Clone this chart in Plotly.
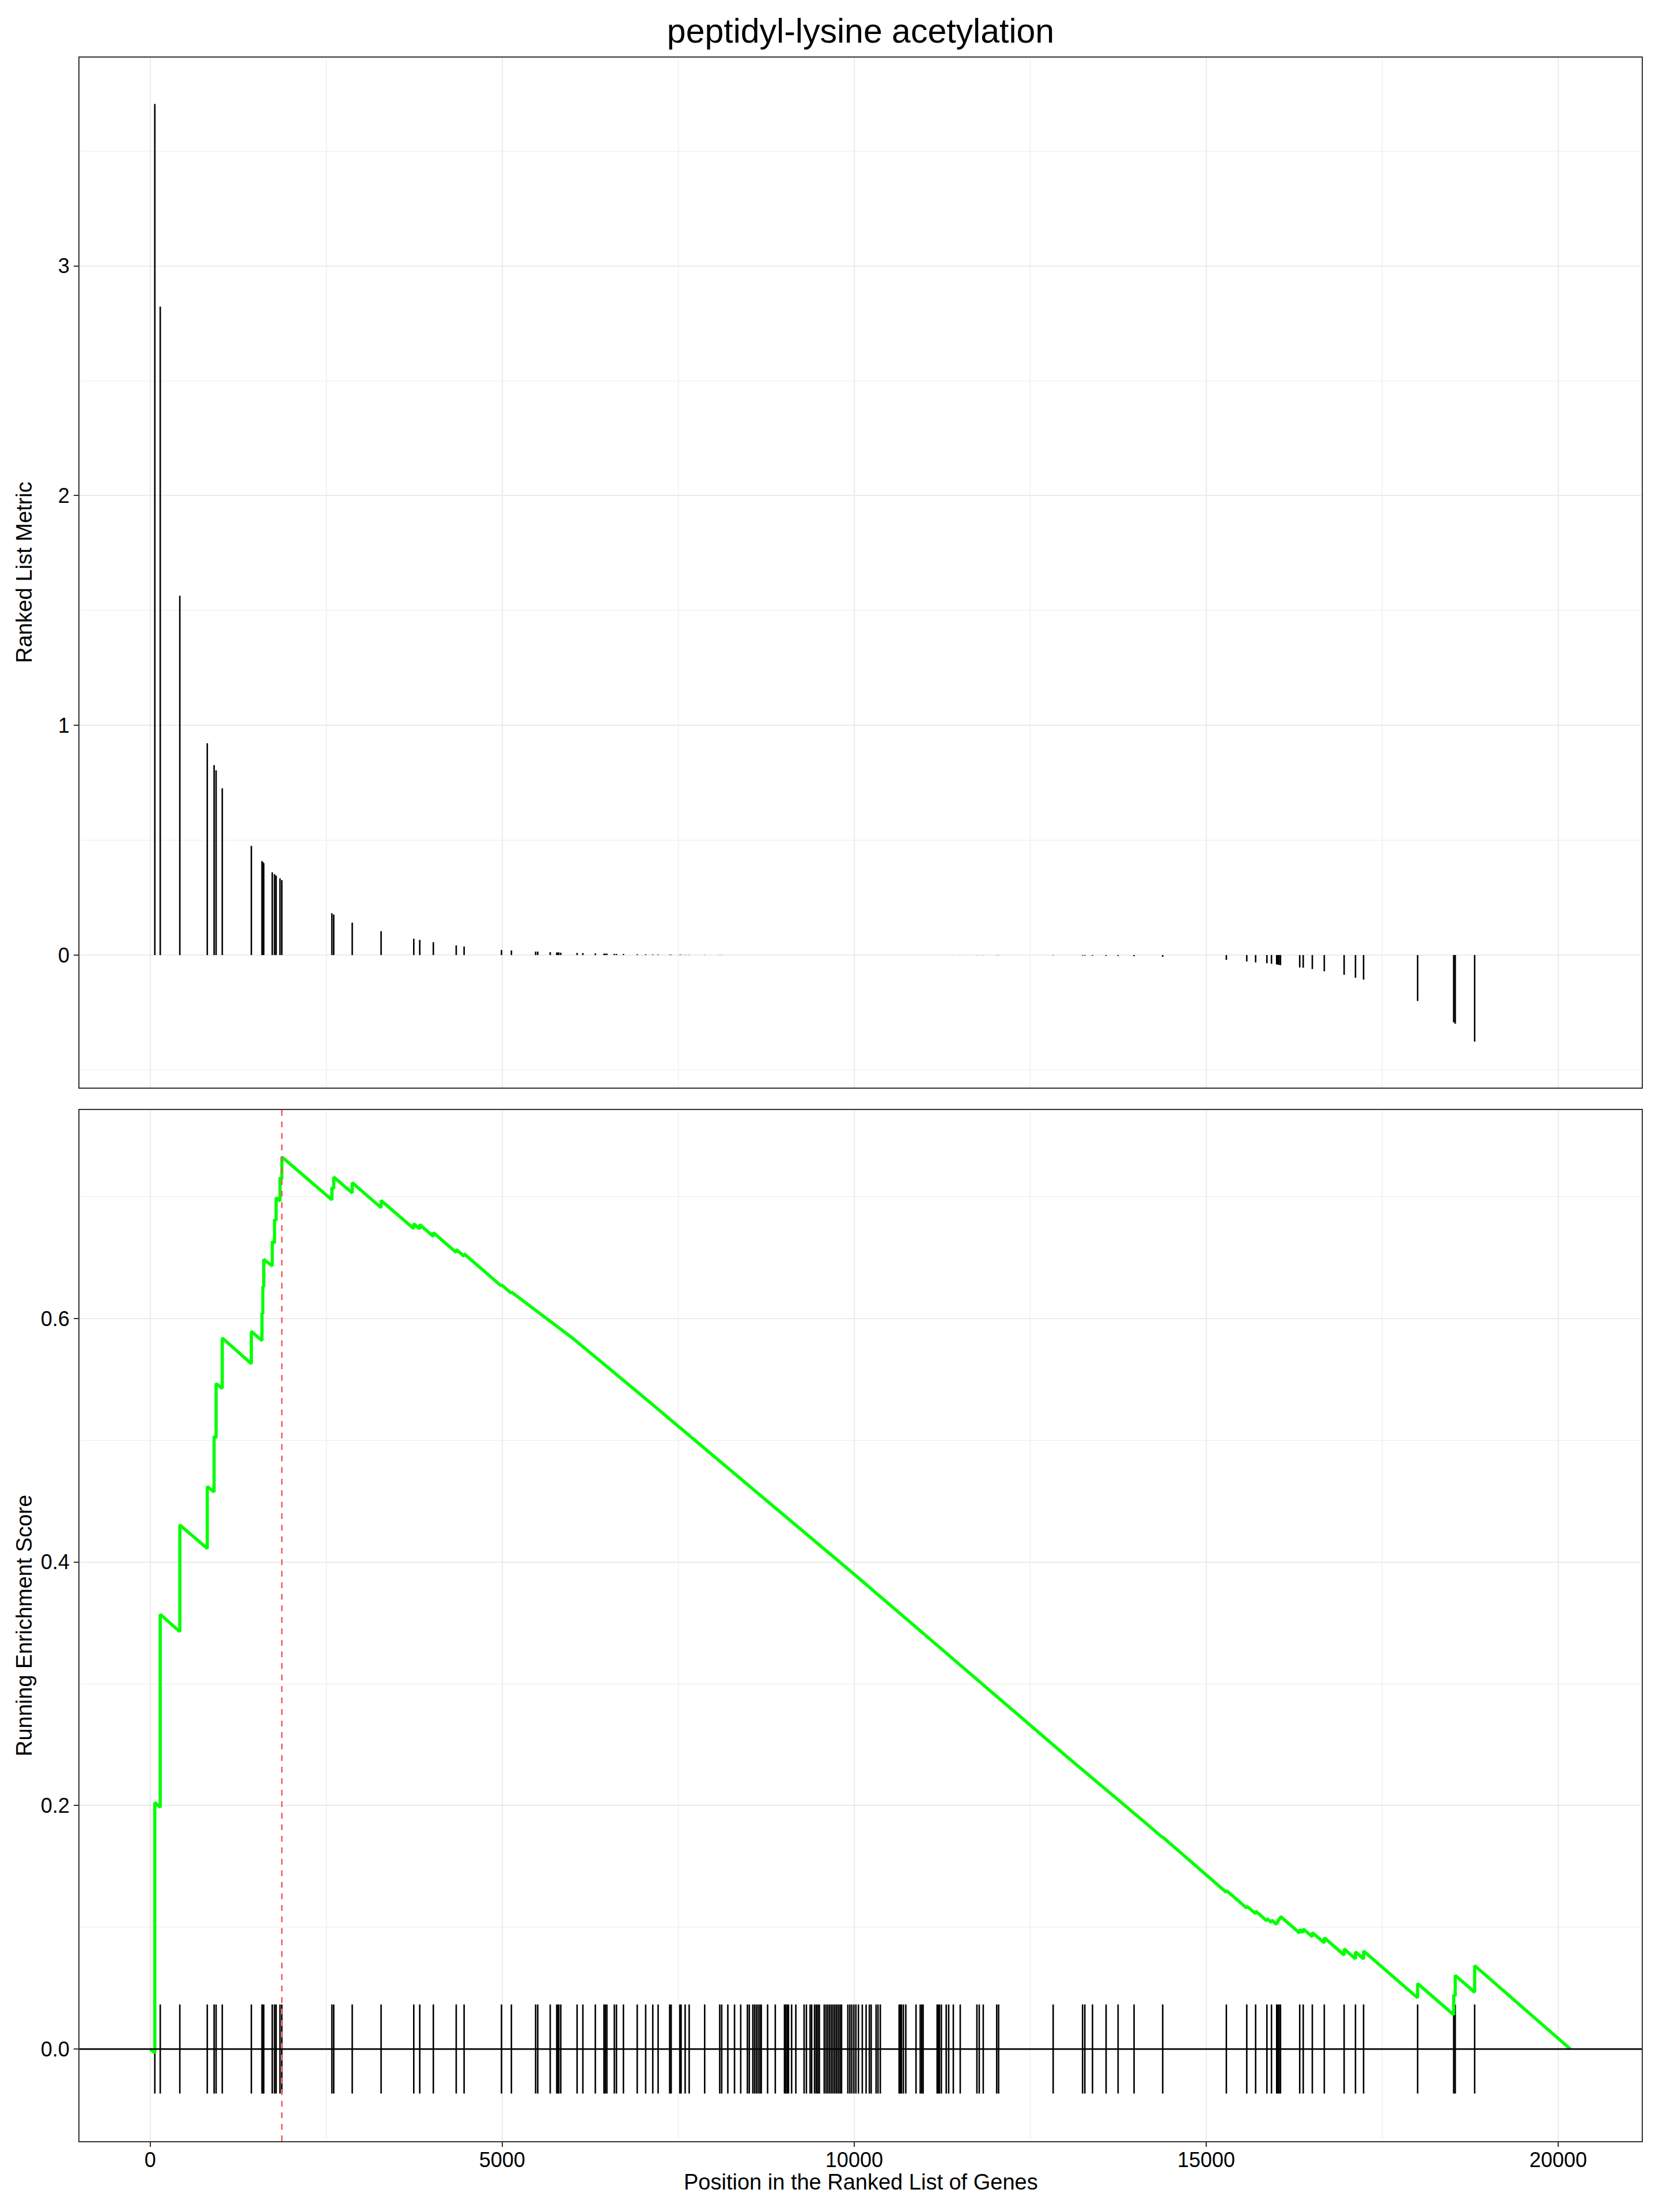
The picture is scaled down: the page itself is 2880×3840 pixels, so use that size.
import plotly.graph_objects as go

# ---------------- data ----------------
N_GENES = 20172
TITLE = "peptidyl-lysine acetylation"

# positions of the gene-set members in the ranked list
hit_pos = [
    66, 143, 421, 811, 908, 936, 1024, 1437, 1588, 1600, 1613, 1734, 1766, 1789, 1844, 1870,
    2581, 2607, 2870, 3280, 3744, 3829, 4022, 4347, 4459, 4990, 5131,
    5475, 5505, 5682, 5775, 5791, 5804, 5832, 6064, 6146, 6323, 6446, 6465, 6487, 6593, 6623,
    6722, 6918, 7038, 7139, 7215, 7379, 7400, 7523, 7541, 7599, 7656, 7876, 8090, 8118,
    8205, 8300, 8388, 8483, 8510, 8560, 8585, 8610, 8635, 8660, 8680, 8770, 8879, 9010, 9030,
    9050, 9067, 9111, 9171, 9288, 9321, 9374, 9396, 9437, 9460, 9482, 9505, 9574, 9600, 9625,
    9650, 9675, 9700, 9725, 9750, 9775, 9800, 9820, 9910, 9938, 9966, 9995, 10024, 10060,
    10115, 10169, 10215, 10241, 10311, 10338, 10371,
    10638, 10655, 10671, 10698, 10733, 10878, 10938, 10960, 10979, 11178, 11195, 11211, 11238,
    11307, 11342, 11408, 11506, 11743, 11776, 11833, 12024, 12051,
    12826, 13244, 13276, 13385, 13578, 13748, 13975, 14382, 15286, 15576, 15702, 15862, 15927,
    16001, 16018, 16035, 16055, 16328, 16378, 16507, 16677, 16959, 17120, 17235, 18003, 18515,
    18537, 18813,
]

# ranked list metric of each member
hit_metric = [
    3.705, 2.823, 1.564, 0.922, 0.827, 0.804, 0.726, 0.475, 0.409, 0.405, 0.400, 0.360, 0.352, 0.346, 0.334, 0.326,
    0.182, 0.176, 0.141, 0.104, 0.071, 0.066, 0.056, 0.042, 0.037, 0.022, 0.020,
    0.015, 0.015, 0.0125, 0.011, 0.011, 0.011, 0.010, 0.009, 0.0085, 0.007, 0.006, 0.006, 0.006, 0.005, 0.005,
    0.0045, 0.0035, 0.003, 0.0025, 0.0022, 0.0015, 0.0015, 0.0012, 0.0012, 0.001, 0.001, 0.0008, 0.0006, 0.0006,
    0.00005, 0.00005, 0.00005, 0.00005, 0.00005, 0.00005, 0.00005, 0.00005, 0.00005, 0.00005, 0.00005, 0.00004, 0.00004, 0.00004, 0.00004,
    0.00004, 0.00004, 0.00004, 0.00003, 0.00003, 0.00003, 0.00003, 0.00003, 0.00003, 0.00003, 0.00003, 0.00003, 0.00002, 0.00002, 0.00002,
    0.00002, 0.00002, 0.00002, 0.00002, 0.00002, 0.00002, 0.00002, 0.00002, 0.00001, 0.00001, 0.00001, 0.00001, 0.00001, 0.00001,
    0.00001, 0.00001, 0.00001, 0.00001, 0.00001, 0.00001, 0.00001,
    -0.0001, -0.0001, -0.0001, -0.0001, -0.0001, -0.0002, -0.0002, -0.0002, -0.0002, -0.0003, -0.0003, -0.0003, -0.0003,
    -0.0003, -0.0003, -0.0004, -0.0004, -0.0005, -0.0005, -0.0005, -0.0007, -0.0007,
    -0.0015, -0.0025, -0.0025, -0.003, -0.0035, -0.004, -0.005, -0.0075, -0.021, -0.028, -0.032, -0.036, -0.038,
    -0.041, -0.042, -0.043, -0.044, -0.054, -0.055, -0.061, -0.071, -0.086, -0.099, -0.107, -0.200, -0.293,
    -0.299, -0.377,
]

# running enrichment score, vertices
es_x = [
    1, 66, 66, 143, 143, 421, 421, 811, 811, 908, 908, 936, 936, 1024, 1024, 1437, 1437,
    1588, 1588, 1600, 1600, 1613, 1613, 1734, 1734, 1766, 1766, 1789, 1789, 1844, 1844, 1870, 1870,
    2581, 2581, 2607, 2607, 2870, 2870, 3280, 3280, 3744, 3744, 3829, 3829, 4022, 4022,
    4347, 4347, 4459, 4459, 4990, 4990, 5131, 5131,
    6000, 7000, 8000, 9000, 10000, 11000, 12000, 13000, 14000, 14382, 14382,
    15286, 15286, 15576, 15576, 15702, 15702, 15862, 15862, 15927, 15927,
    16001, 16001, 16018, 16018, 16035, 16035, 16055, 16055,
    16328, 16328, 16378, 16378, 16507, 16507, 16677, 16677, 16959, 16959, 17120, 17120,
    17235, 17235, 18003, 18003, 18515, 18515, 18537, 18537, 18813, 18813, 20172,
]
es_y = [
    0.0, -0.0033, 0.2025, 0.1986, 0.3571, 0.3429, 0.4305, 0.4112, 0.4621, 0.4576, 0.5035, 0.5020, 0.5467, 0.5427, 0.5841, 0.5630, 0.5895,
    0.5820, 0.6046, 0.6040, 0.6266, 0.6260, 0.6487, 0.6433, 0.6635, 0.6620, 0.6816, 0.6805, 0.6994, 0.6966, 0.7160, 0.7147, 0.7329,
    0.6976, 0.7079, 0.7066, 0.7163, 0.7033, 0.7117, 0.6912, 0.6970, 0.6740, 0.6780, 0.6737, 0.6773, 0.6676, 0.6707,
    0.6544, 0.6568, 0.6512, 0.6533, 0.6267, 0.6279, 0.6208, 0.6219,
    0.5840, 0.5360, 0.4875, 0.4386, 0.3900, 0.3405, 0.2908, 0.2412, 0.1925, 0.1737, 0.1741,
    0.1287, 0.1303, 0.1157, 0.1174, 0.1111, 0.1133, 0.1052, 0.1072, 0.1039, 0.1060,
    0.1023, 0.1046, 0.1038, 0.1061, 0.1053, 0.1076, 0.1066, 0.1089,
    0.0952, 0.0982, 0.0957, 0.0987, 0.0922, 0.0956, 0.0872, 0.0914, 0.0772, 0.0822, 0.0741, 0.0798,
    0.0740, 0.0805, 0.0420, 0.0538, 0.0281, 0.0446, 0.0435, 0.0605, 0.0466, 0.0685, 0.0,
]

ES_PEAK_POS = 1870

x_ticks = [0, 5000, 10000, 15000, 20000]
x_tick_labels = ["0", "5000", "10000", "15000", "20000"]
metric_ticks = [0, 1, 2, 3]
metric_tick_labels = ["0", "1", "2", "3"]
es_ticks = [0.0, 0.2, 0.4, 0.6]
es_tick_labels = ["0.0", "0.2", "0.4", "0.6"]

# ---------------- style ----------------
FONT = "Liberation Sans, Arial, Helvetica, sans-serif"
GRID = "#EBEBEB"
BORDER = "#333333"
RUG_HALF = 0.0366
X_RANGE = [-1004, 21186]
METRIC_RANGE = [-0.577, 3.907]
ES_RANGE = [-0.0757, 0.7714]

PAGE_W, PAGE_H = 2880, 3840
BODY = 8                      # default page margin around the plot div
W, H = PAGE_W - 2 * BODY, PAGE_H - 2 * BODY
# panel edges in page pixels
P_LEFT, P_RIGHT, P_TOP, P_BOTTOM = 138, 2850, 100, 3717
TOP_PANEL_BOTTOM, BOT_PANEL_TOP = 1888, 1927

M_L = P_LEFT - BODY
M_T = P_TOP - BODY
M_R = W - (P_RIGHT - BODY)
M_B = H - (P_BOTTOM - BODY)
plot_h = H - M_T - M_B
plot_w = W - M_L - M_R
top_dom = [(P_BOTTOM - TOP_PANEL_BOTTOM) / plot_h, 1.0]
bot_dom = [0.0, (P_BOTTOM - BOT_PANEL_TOP) / plot_h]

# ---------------- traces ----------------
bar_x, bar_y, rug_x, rug_y = [], [], [], []
for p, m in zip(hit_pos, hit_metric):
    bar_x += [p, p, None]
    bar_y += [0, m, None]
    rug_x += [p, p, None]
    rug_y += [-RUG_HALF, RUG_HALF, None]

fig = go.Figure()
fig.add_trace(go.Scatter(x=bar_x, y=bar_y, mode="lines", xaxis="x", yaxis="y",
                         line=dict(color="black", width=2.6), hoverinfo="skip", showlegend=False))
fig.add_trace(go.Scatter(x=rug_x, y=rug_y, mode="lines", xaxis="x2", yaxis="y2",
                         line=dict(color="black", width=2.6), hoverinfo="skip", showlegend=False))
fig.add_trace(go.Scatter(x=es_x, y=es_y, mode="lines", xaxis="x2", yaxis="y2",
                         line=dict(color="#00FF00", width=5.5), showlegend=False))

fig.add_shape(type="line", xref="x2", yref="y2 domain", x0=ES_PEAK_POS, x1=ES_PEAK_POS, y0=0, y1=1,
              line=dict(color="#FA5860", width=2.6, dash="10px,10px"), layer="above")
fig.add_shape(type="line", xref="x2 domain", yref="y2", x0=0, x1=1, y0=0, y1=0,
              line=dict(color="black", width=2.8), layer="above")

axis_common = dict(showline=True, mirror=True, linecolor=BORDER, linewidth=2.2,
                   showgrid=True, gridcolor=GRID, gridwidth=2.2, zeroline=False,
                   tickfont=dict(family=FONT, size=36, color="black"),
                   tickcolor=BORDER, tickwidth=2.2, ticklen=8)

fig.update_layout(
    width=W, height=H,
    margin=dict(l=M_L, r=M_R, t=M_T, b=M_B),
    paper_bgcolor="white", plot_bgcolor="white",
    font=dict(family=FONT, color="black"),
    title=dict(text=TITLE, x=0.5, xref="paper", y=1 - 45 / H, yref="container",
               xanchor="center", yanchor="middle", font=dict(family=FONT, size=59, color="black")),
    xaxis=dict(domain=[0, 1], anchor="y", range=X_RANGE, tickvals=x_ticks, ticktext=x_tick_labels,
               showticklabels=False, ticks="",
               minor=dict(dtick=2500, tick0=0, showgrid=True, gridcolor=GRID, gridwidth=1.1),
               **axis_common),
    yaxis=dict(domain=top_dom, anchor="x", range=METRIC_RANGE, tickvals=metric_ticks,
               ticktext=metric_tick_labels, ticks="outside",
               minor=dict(dtick=0.5, tick0=0, showgrid=True, gridcolor=GRID, gridwidth=1.1),
               **axis_common),
    xaxis2=dict(domain=[0, 1], anchor="y2", range=X_RANGE, tickvals=x_ticks, ticktext=x_tick_labels,
                ticks="outside", ticklabelstandoff=-8,
                minor=dict(dtick=2500, tick0=0, showgrid=True, gridcolor=GRID, gridwidth=1.1),
                **axis_common),
    yaxis2=dict(domain=bot_dom, anchor="x2", range=ES_RANGE, tickvals=es_ticks,
                ticktext=es_tick_labels, ticks="outside",
                minor=dict(dtick=0.1, tick0=0, showgrid=True, gridcolor=GRID, gridwidth=1.1),
                **axis_common),
)

ytitle_x = (42 - P_LEFT) / plot_w
fig.add_annotation(text="Ranked List Metric", xref="paper", yref="paper",
                   x=ytitle_x, y=(top_dom[0] + top_dom[1]) / 2, textangle=-90,
                   xanchor="center", yanchor="middle", showarrow=False,
                   font=dict(family=FONT, size=38, color="black"))
fig.add_annotation(text="Running Enrichment Score", xref="paper", yref="paper",
                   x=ytitle_x, y=(bot_dom[0] + bot_dom[1]) / 2, textangle=-90,
                   xanchor="center", yanchor="middle", showarrow=False,
                   font=dict(family=FONT, size=38, color="black"))
fig.add_annotation(text="Position in the Ranked List of Genes", xref="paper", yref="paper",
                   x=0.5, y=-(3788 - P_BOTTOM) / plot_h, xanchor="center", yanchor="middle",
                   showarrow=False, font=dict(family=FONT, size=38, color="black"))

fig.write_html("out.html")
